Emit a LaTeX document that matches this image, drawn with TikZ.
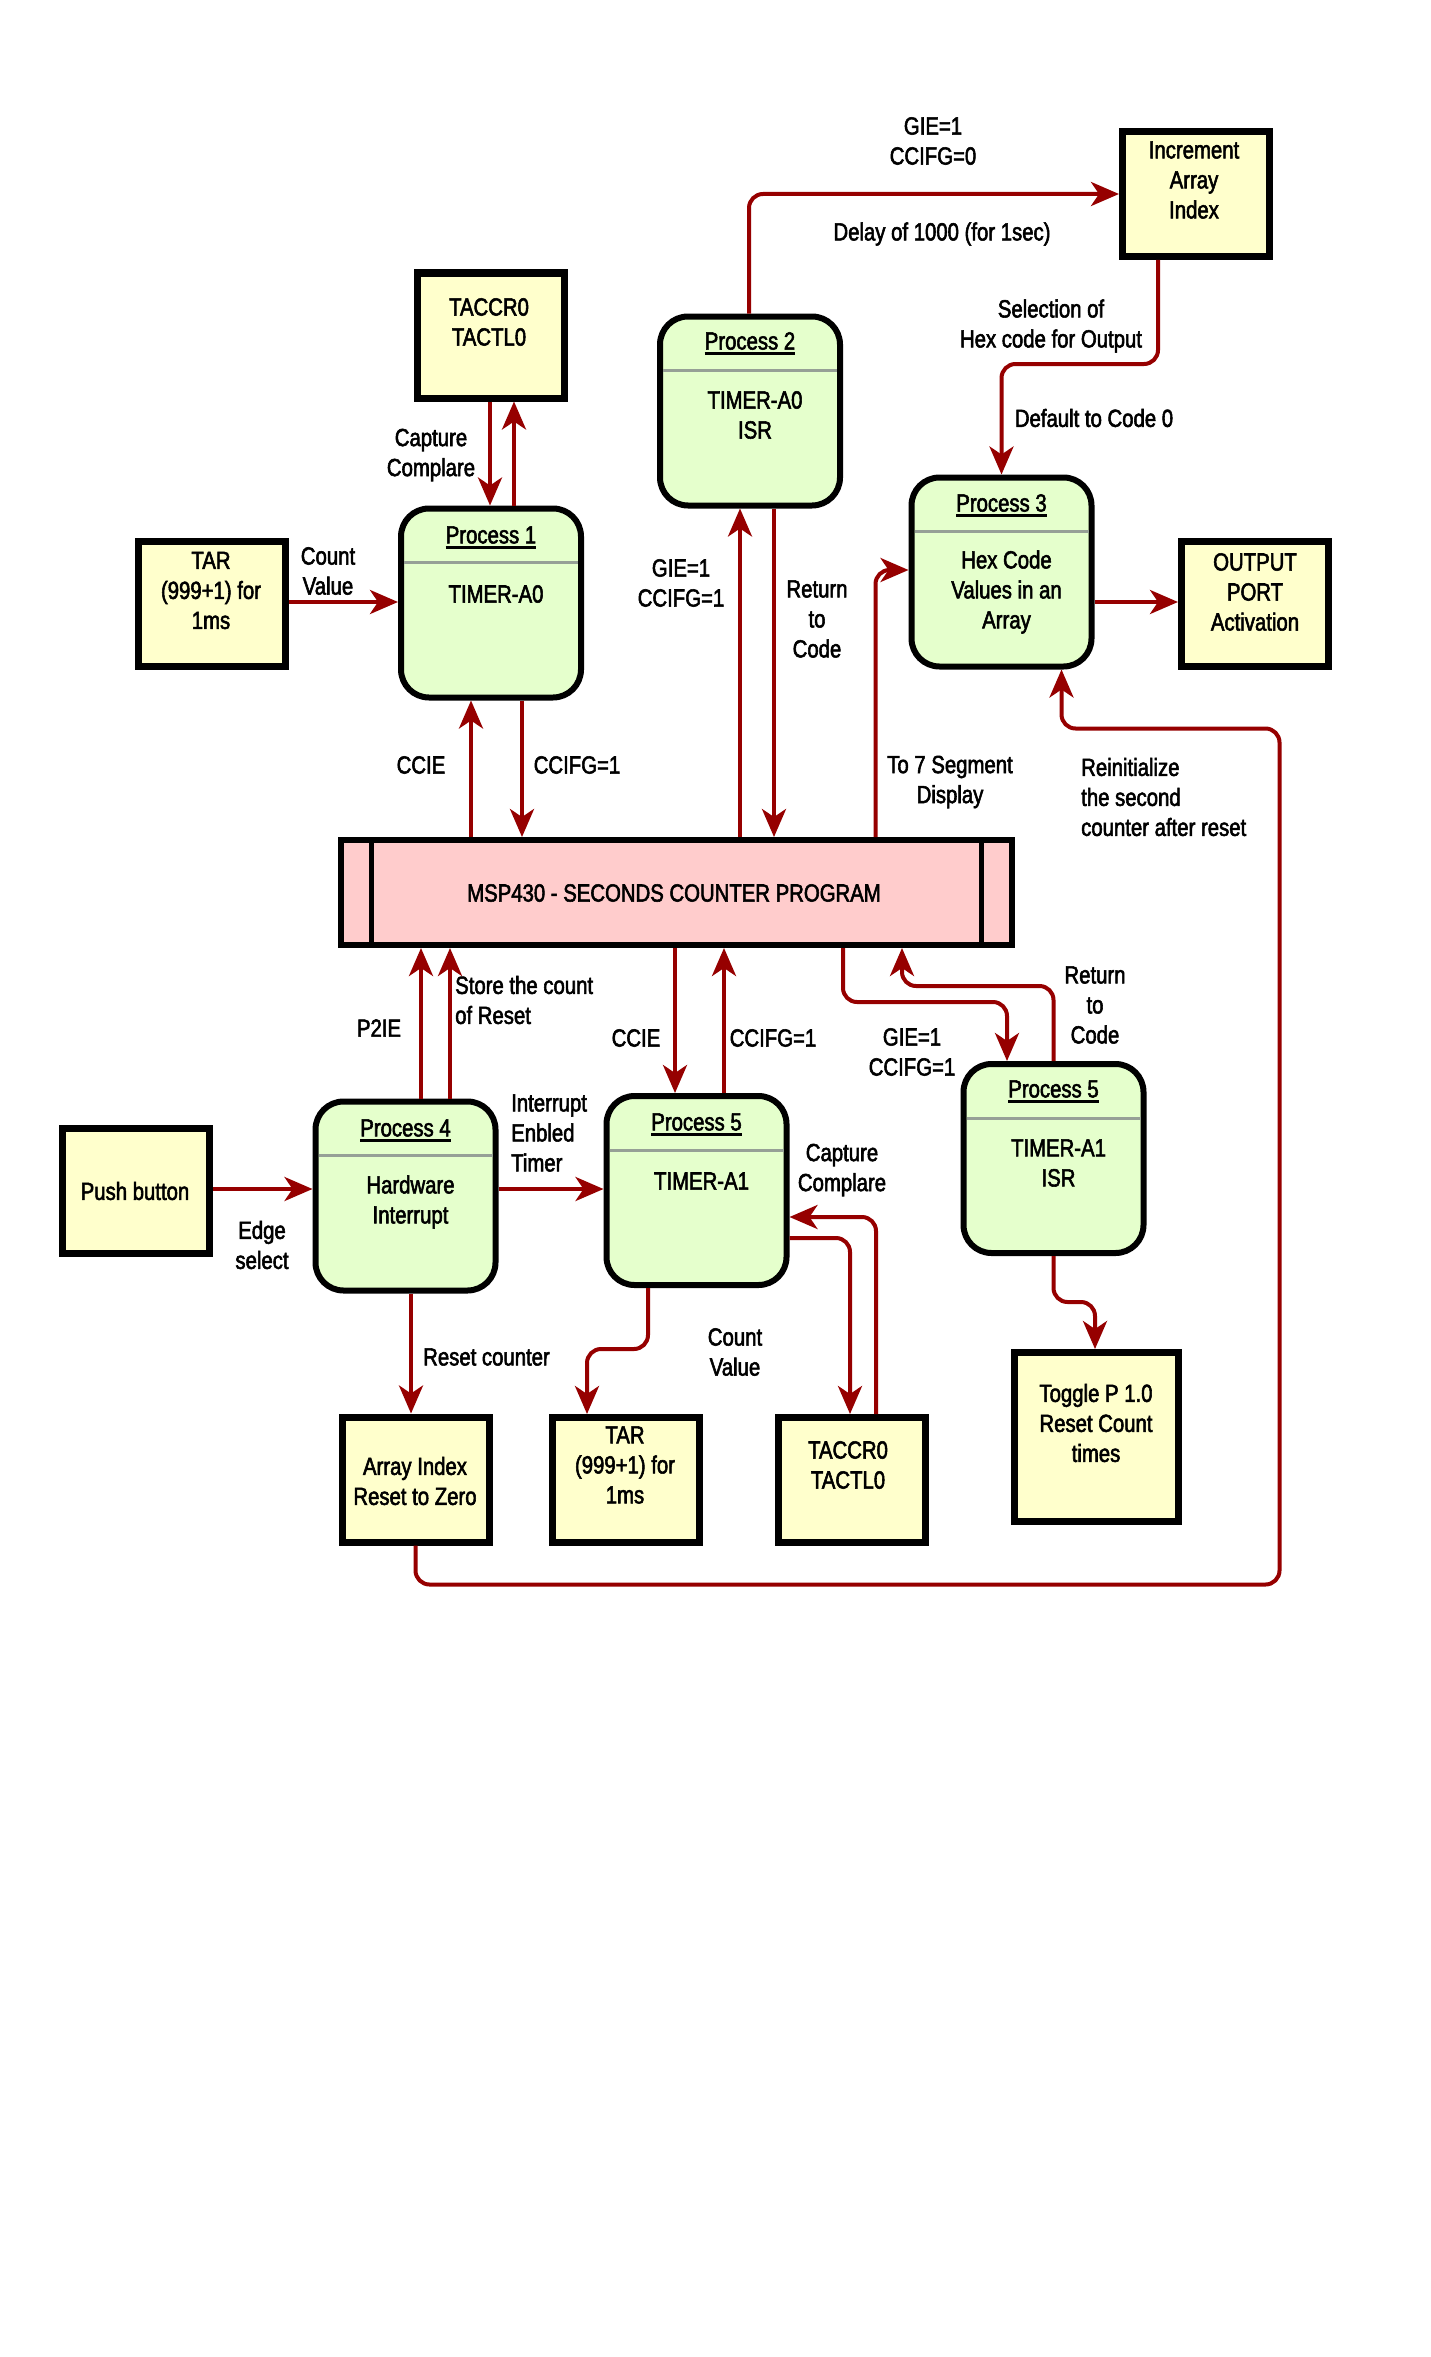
\documentclass[tikz,border=0pt]{standalone}
\usepackage{fontspec}
\setmainfont[FakeStretch=0.82,FakeBold=2.2]{Liberation Sans}
\usetikzlibrary{arrows.meta,calc}
\definecolor{arrred}{RGB}{150,0,0}
\definecolor{procgreen}{RGB}{229,255,204}
\definecolor{boxyellow}{RGB}{255,255,204}
\definecolor{msppink}{RGB}{255,204,204}
\definecolor{sepgrey}{RGB}{150,160,150}
\begin{document}
\begin{tikzpicture}[x=1pt,y=-1pt,
  every node/.style={inner sep=0pt, font=\fontsize{24.8}{30}\selectfont},
  proc/.style={draw=black, line width=6pt, fill=procgreen, rounded corners=28pt, minimum width=180pt, minimum height=189pt},
  ybox/.style={draw=black, line width=7pt, fill=boxyellow, minimum width=147pt, minimum height=125pt},
  mspbox/.style={draw=black, line width=6pt, fill=msppink, minimum width=671pt, minimum height=105pt},
  lbl/.style={align=center},
  lbll/.style={align=left, anchor=west},
  sepline/.style={draw=sepgrey, line width=3pt, shorten <=6pt, shorten >=6pt},
  ulin/.style={line width=2.5pt},
  arr/.style={draw=arrred, line width=4pt, -{Stealth[length=28pt,width=24pt,inset=8pt]}},
  rc/.style={rounded corners=14pt}
]
\path[use as bounding box, fill=white] (0,0) rectangle (1431,2357);

% ---------- process boxes ----------
\node[proc] (p1) at (491,603) {};
\node (p1h) at (491,535) {Process 1};
\node[lbl] (p1b) at (496,594) {TIMER-A0};

\node[proc] (p2) at (750,411) {};
\node (p2h) at (750,341) {Process 2};
\node[lbl] (p2b) at (755,415) {TIMER-A0\\ISR};

\node[proc] (p3) at (1001.5,572) {};
\node (p3h) at (1001.5,503) {Process 3};
\node[lbl] (p3b) at (1006.5,592) {Hex Code\\Values in an\\Array};

\node[proc] (p4) at (405.5,1196) {};
\node (p4h) at (405.5,1128) {Process 4};
\node[lbl] (p4b) at (410.5,1202) {Hardware\\Interrupt};

\node[proc] (p5m) at (696.5,1190.5) {};
\node (p5mh) at (696.5,1122) {Process 5};
\node[lbl] (p5mb) at (701.5,1181) {TIMER-A1};

\node[proc] (p5b) at (1053.5,1158.5) {};
\node (p5bh) at (1053.5,1089) {Process 5};
\node[lbl] (p5bb) at (1058.5,1163) {TIMER-A1\\ISR};

\foreach \p in {p1,p2,p3,p4,p5m,p5b}{
  \draw[sepline] ($(\p.north west)+(0,57)$) -- ($(\p.north east)+(0,57)$);
  \draw[ulin] ($(\p h.base west)+(0,4)$) -- ($(\p h.base east)+(0,4)$);
}

% ---------- yellow boxes ----------
\node[ybox] (tacA) at (491,335.5) {};
\node[lbl] (tacAt) at (489,322) {TACCR0\\TACTL0};
\node[ybox] (tarA) at (211.5,604) {};
\node[lbl] (tarAt) at (211,590.5) {TAR\\(999+1) for\\1ms};
\node[ybox] (inc) at (1196,194) {};
\node[lbl] (inct) at (1194,180) {Increment\\Array\\Index};
\node[ybox] (out) at (1255,604) {};
\node[lbl] (outt) at (1255,592) {OUTPUT\\PORT\\Activation};
\node[ybox] (push) at (135.5,1190.5) {};
\node[lbl] (pusht) at (135,1191) {Push button};
\node[ybox] (aidx) at (415.5,1479.5) {};
\node[lbl] (aidxt) at (415,1481) {Array Index\\Reset to Zero};
\node[ybox] (tarB) at (625.5,1480) {};
\node[lbl] (tarBt) at (625,1465) {TAR\\(999+1) for\\1ms};
\node[ybox] (tacB) at (851.5,1480) {};
\node[lbl] (tacBt) at (848,1465) {TACCR0\\TACTL0};
\node[ybox, minimum width=164pt, minimum height=169pt] (tog) at (1096.5,1437) {};
\node[lbl] (togt) at (1096,1423) {Toggle P 1.0\\Reset Count\\times};

% ---------- MSP430 ----------
\node[mspbox] (msp) at (676.5,892.5) {};
\draw[line width=5pt] ($(msp.north west)+(33,0)$) -- ($(msp.south west)+(33,0)$);
\draw[line width=5pt] ($(msp.north east)+(-34,0)$) -- ($(msp.south east)+(-34,0)$);
\node (mspt) at (674,893) {MSP430 - SECONDS COUNTER PROGRAM};

% ---------- connectors ----------
% TAR -> Process 1
\draw[arr] ($(tarA.east)+(0,-2)$) -- ($(p1.west)+(0,-1)$);
% TACCR0 <-> Process 1
\draw[arr] ($(tacA.south)+(-1,0)$) -- ($(p1.north)+(-1,0)$);
\draw[arr] ($(p1.north)+(23,0)$) -- ($(tacA.south)+(23,0)$);
% MSP <-> Process 1
\draw[arr] ($(msp.north -| p1.south)+(-20,0)$) -- ($(p1.south)+(-20,0)$);
\draw[arr] ($(p1.south)+(31,0)$) -- ($(msp.north -| p1.south)+(31,0)$);
% Process 2 -> Increment
\draw[arr,rc] ($(p2.north)+(-1,0)$) |- (inc.west);
% Increment -> Process 3
\draw[arr,rc] ($(inc.south)+(-38,0)$) -- ++(0,104) -| (p3.north);
% Process 3 -> Output
\draw[arr] ($(p3.east)+(0,30)$) -- ($(out.west)+(0,-2)$);
% MSP <-> Process 2
\draw[arr] ($(msp.north -| p2.south)+(-10,0)$) -- ($(p2.south)+(-10,0)$);
\draw[arr] ($(p2.south)+(24,0)$) -- ($(msp.north -| p2.south)+(24,0)$);
% MSP -> Process 3 (7 segment)
\draw[arr,rc] ($(msp.north -| p3.west)+(-33,0)$) |- ($(p3.west)+(0,-2)$);
% Array index -> Process 3 (reinitialize)
\draw[arr,rc] (aidx.south) -- ++(0,39) -- ++(864,0) -- ++(0,-856) -| ($(p3.south)+(60,0)$);
% Process 4 -> MSP
\draw[arr] ($(p4.north)+(15.5,0)$) -- ($(msp.south -| p4.north)+(15.5,0)$);
\draw[arr] ($(p4.north)+(44.5,0)$) -- ($(msp.south -| p4.north)+(44.5,0)$);
% MSP <-> Process 5 (middle)
\draw[arr] ($(msp.south -| p5m.north)+(-21.5,0)$) -- ($(p5m.north)+(-21.5,0)$);
\draw[arr] ($(p5m.north)+(27.5,0)$) -- ($(msp.south -| p5m.north)+(27.5,0)$);
% MSP <-> Process 5 (right)
\draw[arr,rc] ($(msp.south)+(166.5,0)$) -- ++(0,54) -| ($(p5b.north)+(-46.5,0)$);
\draw[arr,rc] (p5b.north) -- ++(0,-75) -| ($(msp.south)+(225.5,0)$);
% Push button -> Process 4 -> Process 5
\draw[arr] ($(push.east)+(0,-1.5)$) -- ($(p4.west)+(0,-7)$);
\draw[arr] ($(p4.east)+(0,-7)$) -- ($(p5m.west)+(0,-1.5)$);
% Process 5 -> TAR lower
\draw[arr,rc] ($(p5m.south)+(-48.5,0)$) -- ++(0,61) -| ($(tarB.north)+(-38.5,0)$);
% Process 5 <-> TACCR0 lower
\draw[arr,rc] ($(p5m.east)+(0,47.5)$) -| ($(tacB.north)+(-1.5,0)$);
\draw[arr,rc] ($(tacB.north)+(24.5,0)$) |- ($(p5m.east)+(0,26.5)$);
% Process 4 -> Array index
\draw[arr] ($(p4.south)+(5.5,0)$) -- ($(aidx.north)+(-4.5,0)$);
% Process 5 right -> Toggle
\draw[arr,rc] (p5b.south) -- ++(0,46) -| ($(tog.north)+(-1.5,0)$);

% ---------- labels ----------
\node[lbl] (l1) at (328,571) {Count\\Value};
\node[lbl] (l2) at (431,455) {Capture\\Complare};
\node[lbl] (l3) at (421,765) {CCIE};
\node[lbl] (l4) at (577,765) {CCIFG=1};
\node[lbl] (l5) at (933,141) {GIE=1\\CCIFG=0};
\node[lbl] (l6) at (942,234) {Delay of 1000 (for 1sec)};
\node[lbl] (l7) at (1051,326) {Selection of\\Hex code for Output};
\node[lbl] (l8) at (1094,418) {Default to Code 0};
\node[lbl] (l9) at (681,583) {GIE=1\\CCIFG=1};
\node[lbl] (l10) at (817,619) {Return\\to\\Code};
\node[lbl] (l11) at (950,782) {To 7 Segment\\Display};
\node[lbll] (l12) at (1081,797) {Reinitialize\\the second\\counter after reset};
\node[lbl] (l13) at (379,1028) {P2IE};
\node[lbll] (l14) at (455,1000) {Store the count\\of Reset};
\node[lbl] (l15) at (636,1038) {CCIE};
\node[lbl] (l16) at (773,1038) {CCIFG=1};
\node[lbl] (l17) at (912,1052) {GIE=1\\CCIFG=1};
\node[lbl] (l18) at (1095,1005) {Return\\to\\Code};
\node[lbll] (l19) at (511,1133) {Interrupt\\Enbled\\Timer};
\node[lbl] (l20) at (262,1245) {Edge\\select};
\node[lbl] (l21) at (842,1170) {Capture\\Complare};
\node[lbll] (l22) at (423,1357) {Reset counter};
\node[lbl] (l23) at (735,1352) {Count\\Value};
\end{tikzpicture}
\end{document}
